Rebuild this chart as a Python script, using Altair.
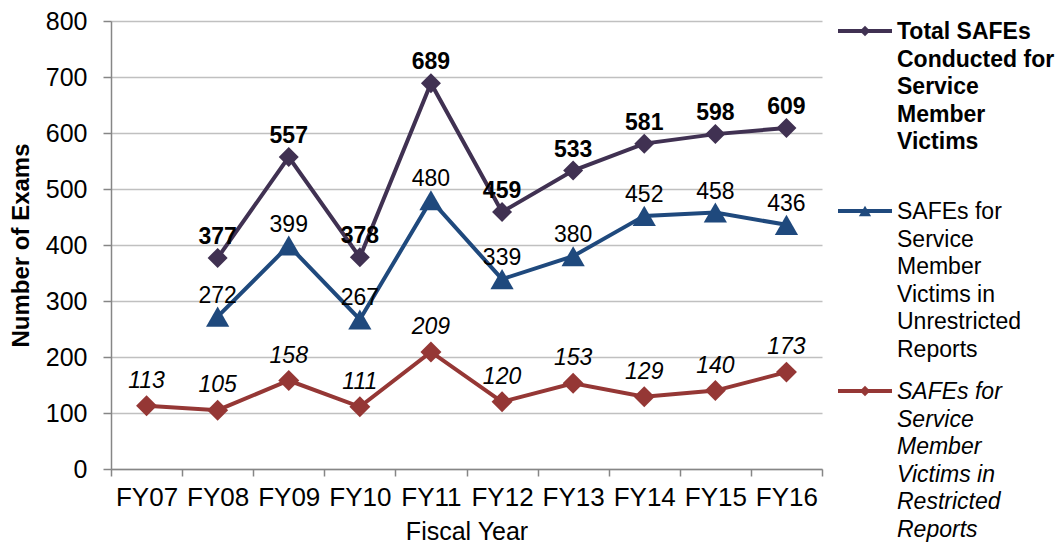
import altair as alt
import pandas as pd

years = ["FY07", "FY08", "FY09", "FY10", "FY11", "FY12", "FY13", "FY14", "FY15", "FY16"]
total = [None, 377, 557, 378, 689, 459, 533, 581, 598, 609]
unrestricted = [None, 272, 399, 267, 480, 339, 380, 452, 458, 436]
restricted = [113, 105, 158, 111, 209, 120, 153, 129, 140, 173]

series_names = ["Total", "Unrestricted", "Restricted"]
colors = ["#403152", "#1F497D", "#953735"]
legend_texts = [
    "Total SAFEs\nConducted for\nService\nMember\nVictims",
    "SAFEs for\nService\nMember\nVictims in\nUnrestricted\nReports",
    "SAFEs for\nService\nMember\nVictims in\nRestricted\nReports",
]

FONT = "Liberation Sans"

rows = []
for name, vals in zip(series_names, [total, unrestricted, restricted]):
    for y, v in zip(years, vals):
        if v is not None:
            rows.append({"series": name, "year": y, "value": v})
df = pd.DataFrame(rows)

W, H = 711, 448

x_enc = alt.X(
    "year:N",
    sort=years,
    scale=alt.Scale(domain=years, paddingInner=0, paddingOuter=0),
    axis=alt.Axis(
        title="Fiscal Year",
        tickBand="extent",
        labelAngle=0,
        labelFontSize=26,
        titleFontSize=25,
        titleFontWeight="normal",
        tickSize=7,
        labelPadding=8,
        titlePadding=9,
        domainColor="#868686",
        domainWidth=1.5,
        tickColor="#868686",
        tickWidth=1.5,
        labelColor="#000000",
        titleColor="#000000",
        grid=False,
    ),
)
y_enc = alt.Y(
    "value:Q",
    scale=alt.Scale(domain=[0, 800], nice=False),
    axis=alt.Axis(
        title="Number of Exams",
        values=list(range(0, 801, 100)),
        labelFontSize=25,
        titleFontSize=24,
        titleFontWeight="bold",
        tickSize=8,
        labelPadding=16,
        titlePadding=12,
        domainColor="#868686",
        domainWidth=1.5,
        tickColor="#868686",
        tickWidth=1.5,
        gridColor="#C0C0C0",
        gridWidth=1.5,
        labelColor="#000000",
        titleColor="#000000",
    ),
)

base = alt.Chart(df)
layers = []
shapes = ["diamond", "triangle-up", "diamond"]
sizes = [400, 540, 440]
weights = ["bold", "normal", "normal"]
styles = ["normal", "normal", "italic"]
offsets = [-21, -21, -25]
for i, name in enumerate(series_names):
    sub = base.transform_filter(alt.datum.series == name)
    layers.append(
        sub.mark_line(color=colors[i], strokeWidth=4).encode(x=x_enc, y=y_enc)
    )
    layers.append(
        sub.mark_point(
            shape=shapes[i], filled=True, size=sizes[i], color=colors[i], opacity=1
        ).encode(x=x_enc, y=y_enc)
    )
    layers.append(
        sub.mark_text(
            dy=offsets[i],
            fontSize=23,
            font=FONT,
            fontWeight=weights[i],
            fontStyle=styles[i],
            color="#000000",
        ).encode(x=x_enc, y=y_enc, text="value:Q")
    )

# legend (manual)
leg_y = [10, 190, 370]
leg_small = [110, 150, 110]
for i, name in enumerate(series_names):
    ldf = pd.DataFrame({"t": [legend_texts[i]]})
    lc = alt.Chart(ldf)
    layers.append(
        lc.mark_rule(color=colors[i], strokeWidth=4).encode(
            x=alt.value(W + 16), x2=alt.value(W + 70), y=alt.value(leg_y[i])
        )
    )
    layers.append(
        lc.mark_point(
            shape=shapes[i], filled=True, size=leg_small[i], color=colors[i], opacity=1
        ).encode(x=alt.value(W + 43), y=alt.value(leg_y[i]))
    )
    layers.append(
        lc.mark_text(
            align="left",
            baseline="top",
            lineBreak="\n",
            lineHeight=27.5,
            fontSize=23,
            font=FONT,
            fontWeight=weights[i],
            fontStyle=styles[i],
            color="#000000",
        ).encode(x=alt.value(W + 75), y=alt.value(leg_y[i] - 10), text="t:N")
    )

chart = (
    alt.layer(*layers)
    .properties(width=W, height=H, padding={"left": 1, "top": 1, "right": 0, "bottom": 0})
    .configure_view(stroke=None)
    .configure_axis(labelFont=FONT, titleFont=FONT)
)

chart.save("out.html", embed_options={"renderer": "svg", "actions": False})
